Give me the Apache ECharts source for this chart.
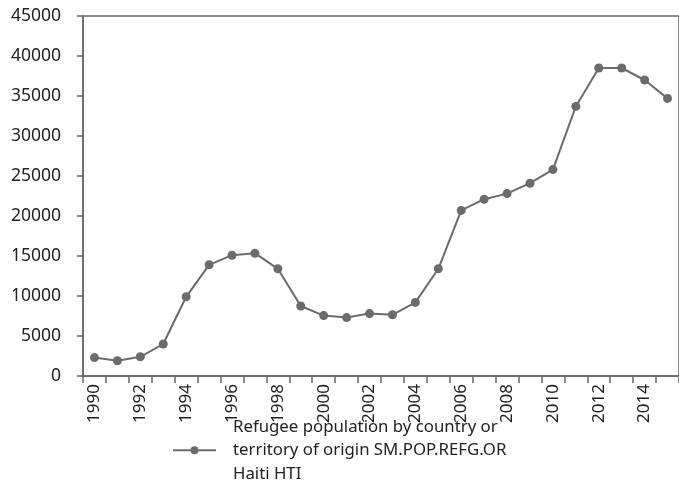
<!DOCTYPE html>
<html>
<head>
<meta charset="utf-8">
<script src="https://cdn.jsdelivr.net/npm/echarts@6/dist/echarts.min.js"></script>
<style>
html,body{margin:0;padding:0;background:#fff;}
#c{width:679px;height:502px;}
</style>
</head>
<body>
<div id="c"></div>
<script>
const years = ['1990','1991','1992','1993','1994','1995','1996','1997','1998','1999','2000','2001','2002','2003','2004','2005','2006','2007','2008','2009','2010','2011','2012','2013','2014','2015'];
const refugees = [2300, 1900, 2400, 4000, 9900, 13900, 15100, 15350, 13400, 8750, 7550, 7300, 7800, 7650, 9200, 13400, 20700, 22100, 22800, 24100, 25800, 33700, 38500, 38500, 37000, 34700];
const seriesName = 'Refugee population by country or\nterritory of origin SM.POP.REFG.OR\nHaiti HTI';
const yTicks = {min: 0, max: 45000, interval: 5000};

const FONT = '"Noto Sans", sans-serif';
const chart = echarts.init(document.getElementById('c'), null, {renderer: 'canvas'});
chart.setOption({
  animation: false,
  backgroundColor: '#fff',
  grid: {left: 83, top: 16, right: -7.5, bottom: 126, containLabel: false, show: true, borderColor: '#666', borderWidth: 1.5, backgroundColor: 'transparent'},
  legend: {
    show: true, left: 172, top: 415, orient: 'vertical', padding: 0,
    itemWidth: 43, itemHeight: 10,
    textStyle: {fontFamily: FONT, fontSize: 16.8, color: '#222', lineHeight: 23.5, padding: [0,0,0,12]},
    data: [{name: seriesName}]
  },
  xAxis: {
    type: 'category', data: years, boundaryGap: true,
    axisLine: {lineStyle: {color: '#666', width: 1.5}},
    axisTick: {show: true, interval: 0, length: 7, lineStyle: {color: '#666', width: 1.5}},
    axisLabel: {interval: 1, rotate: 90, margin: 8, fontFamily: FONT, fontSize: 17, color: '#222'},
    splitLine: {show: false}
  },
  yAxis: {
    type: 'value', min: yTicks.min, max: yTicks.max, interval: yTicks.interval,
    axisLine: {show: true, lineStyle: {color: '#666', width: 1.5}},
    axisTick: {show: true, length: 6, lineStyle: {color: '#666', width: 1.5}},
    axisLabel: {margin: 22, fontFamily: FONT, fontSize: 17.5, color: '#222', formatter: function (v) { return String(v); }},
    splitLine: {show: false}
  },
  series: [{
    name: seriesName, type: 'line', data: refugees,
    symbol: 'circle', symbolSize: 9,
    lineStyle: {color: '#6b6b6e', width: 2},
    itemStyle: {color: '#6b6b6e'}
  }]
});
</script>
</body>
</html>
